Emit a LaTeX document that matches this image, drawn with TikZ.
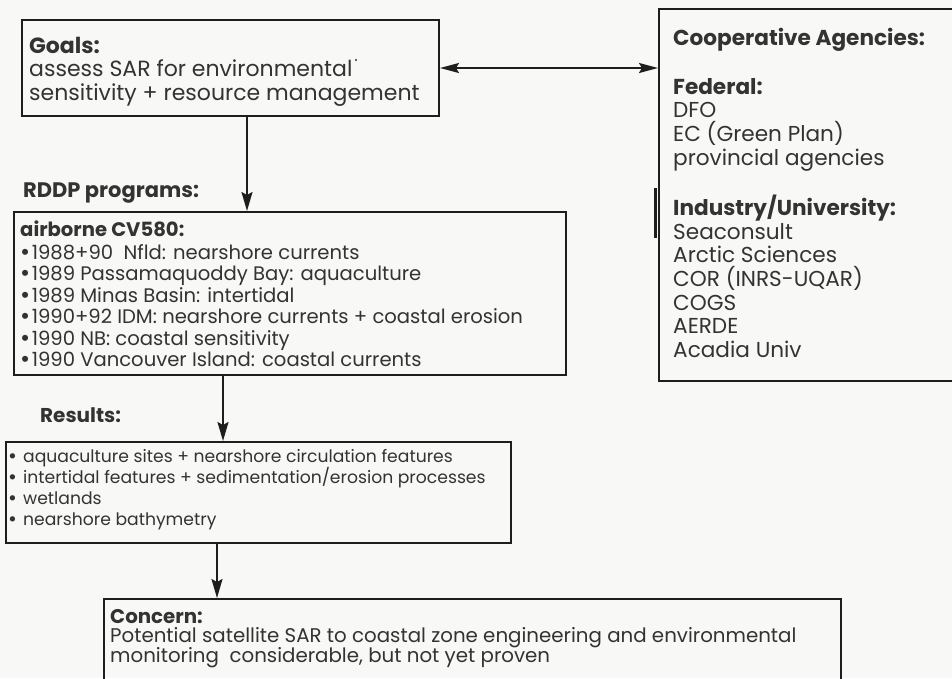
\documentclass[tikz,border=0pt]{standalone}
\usepackage{fontspec}
\setmainfont{Poppins}
\usetikzlibrary{arrows.meta}
\definecolor{ink}{HTML}{333333}
\definecolor{rule}{HTML}{1E1E1E}
\definecolor{paper}{HTML}{F8F8F6}
% lines stacked at a fixed baseline distance; node baseline = first line
\newcommand\Lines[1]{\vtop{\lineskiplimit=-100pt\relax\lineskip=0pt\relax #1}}
\newcommand\Ln[1]{\hbox{#1}}
\newcommand\bul{\raisebox{-0.07em}{\scalebox{1.25}{•}}\hspace{1.5pt}}
\tikzset{
  box/.style={draw=rule, line width=2pt, inner sep=0pt, anchor=north west},
  txt/.style={anchor=base west, inner sep=0pt, text=ink},
  arr/.style={draw=rule, line width=1.8pt, -{Stealth[length=19pt,width=11pt,inset=3pt]}},
  darr/.style={draw=rule, line width=1.8pt, {Stealth[length=19pt,width=10pt,inset=3pt]}-{Stealth[length=19pt,width=10pt,inset=3pt]}},
}
\begin{document}
\begin{tikzpicture}[x=1pt,y=-1pt]
\useasboundingbox (0,0) rectangle (952,678);
\clip (0,0) rectangle (952,678);
\fill[paper] (0,0) rectangle (952,678);

% boxes
\node[box, minimum width=417pt, minimum height=96pt] (goals) at (21,19) {};
\node[box, minimum width=330pt, minimum height=372pt] (coop) at (658,8) {};
\node[box, minimum width=552pt, minimum height=163pt] (cv) at (13,211) {};
\node[box, minimum width=505pt, minimum height=101pt] (res) at (5,441) {};
\node[box, minimum width=737pt, minimum height=110pt] (conc) at (103,598) {};

% scan mark on the left edge of the agencies box
\draw[rule, line width=2.4pt] (655.5,188) -- (655.5,238);
% stray speck after "environmental"
\fill[ink] (356,60) circle (1.1pt);

% texts
\node[txt, font=\fontsize{22}{23.5}\selectfont] (goalst) at (29,53)
  {\Lines{\Ln{\textbf{Goals:}}\Ln{assess SAR for environmental}\Ln{sensitivity + resource management}}};

\node[txt, font=\fontsize{21.6}{23.7}\selectfont] (coopt) at (673,45)
  {\Lines{\Ln{\textbf{Cooperative Agencies:}}\vskip 25.3pt
   \Ln{\textbf{Federal:}}\Ln{DFO}\Ln{EC (Green Plan)}\Ln{provincial agencies}\vskip 26.6pt
   \Ln{\textbf{Industry/University:}}\Ln{Seaconsult}\Ln{Arctic Sciences}\Ln{COR (INRS-UQAR)}\Ln{COGS}\Ln{AERDE}\Ln{Acadia Univ}}};

\node[txt, font=\bfseries\fontsize{21}{24}\selectfont] (rddp) at (23,197) {RDDP programs:};

\node[txt, font=\fontsize{19.6}{21.5}\selectfont] (cvt) at (20,236)
  {\Lines{\Ln{\textbf{airborne CV580:}}\vskip 1.5pt
   \Ln{\bul1988+90 \ Nfld: nearshore currents}
   \Ln{\bul1989 Passamaquoddy Bay: aquaculture}
   \Ln{\bul1989 Minas Basin: intertidal}
   \Ln{\bul1990+92 IDM: nearshore currents + coastal erosion}
   \Ln{\bul1990 NB: coastal sensitivity}
   \Ln{\bul1990 Vancouver Island: coastal currents}}};

\node[txt, font=\bfseries\fontsize{20}{24}\selectfont] (rest) at (40,422) {Results:};

\node[txt, font=\fontsize{17.2}{21}\selectfont] (rest2) at (8,462)
  {\Lines{\Ln{\bul\ aquaculture sites + nearshore circulation features}
   \Ln{\bul\ intertidal features + sedimentation/erosion processes}
   \Ln{\bul\ wetlands}
   \Ln{\bul\ nearshore bathymetry}}};

\node[txt, font=\fontsize{19.8}{19.5}\selectfont] (conct) at (110,623)
  {\Lines{\Ln{\textbf{Concern:}}
   \Ln{Potential satellite SAR to coastal zone engineering and environmental}
   \Ln{monitoring \ considerable, but not yet proven}}};

% connectors
\coordinate (x1) at (247,0);
\coordinate (x2) at (223,0);
\coordinate (x3) at (217,0);
\draw[arr] (goals.south -| x1) -- (cv.north -| x1);
\draw[arr] (cv.south -| x2) -- (res.north -| x2);
\draw[arr] (res.south -| x3) -- (conc.north -| x3);
\draw[darr] (goals.east) -- (goals.east -| coop.west);
\end{tikzpicture}
\end{document}
